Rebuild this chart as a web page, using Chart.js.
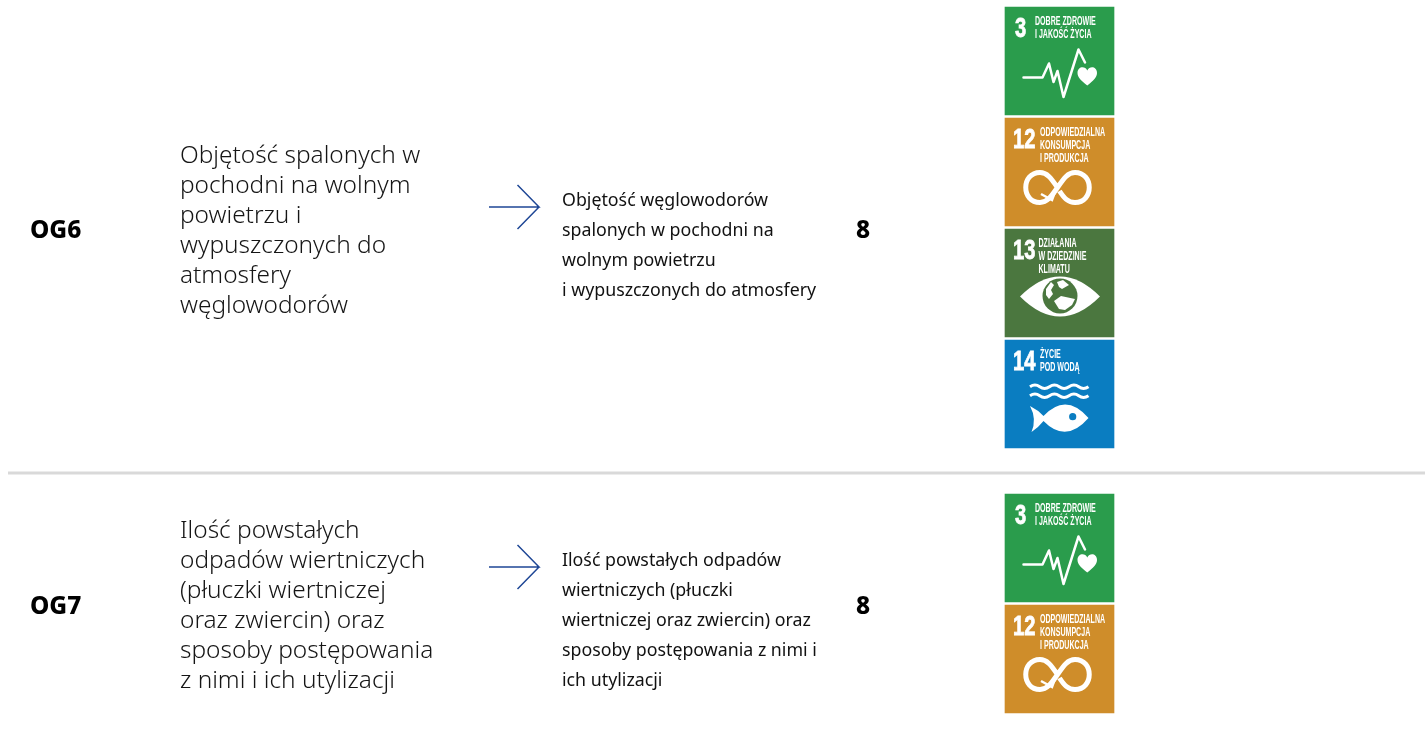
<!DOCTYPE html>
<html lang="pl">
<head>
<meta charset="utf-8">
<title>OG6 OG7</title>
<script src="https://cdn.jsdelivr.net/npm/chart.js@4"></script>
<style>
  html, body { margin: 0; background: #fff; overflow: hidden; }
  canvas { display: block; }
</style>
</head>
<body>
<canvas id="og-chart" width="1425" height="731"></canvas>
<script>
// table content
const rowCodes = ['OG6', 'OG7'];
const rowCounts = ['8', '8'];
const rowTitles = [
  ['Objętość spalonych w', 'pochodni na wolnym', 'powietrzu i', 'wypuszczonych do', 'atmosfery', 'węglowodorów'],
  ['Ilość powstałych', 'odpadów wiertniczych', '(płuczki wiertniczej', 'oraz zwiercin) oraz', 'sposoby postępowania', 'z nimi i ich utylizacji'],
];
const rowDescriptions = [
  ['Objętość węglowodorów', 'spalonych w pochodni na', 'wolnym powietrzu', 'i wypuszczonych do atmosfery'],
  ['Ilość powstałych odpadów', 'wiertniczych (płuczki', 'wiertniczej oraz zwiercin) oraz', 'sposoby postępowania z nimi i', 'ich utylizacji'],
];
const rowGoals = [[3, 12, 13, 14], [3, 12]];

const goalTitles = {
  3: ['DOBRE ZDROWIE', 'I JAKOŚĆ ŻYCIA'],
  12: ['ODPOWIEDZIALNA', 'KONSUMPCJA', 'I PRODUKCJA'],
  13: ['DZIAŁANIA', 'W DZIEDZINIE', 'KLIMATU'],
  14: ['ŻYCIE', 'POD WODĄ'],
};
const goalColors = { 3: '#2a9c4c', 12: '#cf8d2a', 13: '#4b773f', 14: '#0a7dc1' };

// layout of the page, in page units
const rowCenters = [231.5, 607.5];
const titleCenters = [231, 606.5];
const arrowYs = [207, 567];
const descriptionTops = [200.5, 560.5];
const tileTops = [7, 494];
const tileX = 1059.5;
const tileHeight = 108;
const tilePitch = 111;

const tileBars = [];
const tileColors = [];
const tileGoals = [];
rowGoals.forEach((goals, r) => {
  goals.forEach((goal, i) => {
    const top = tileTops[r] + i * tilePitch;
    tileBars.push({ x: tileX, y: [top, top + tileHeight] });
    tileColors.push(goalColors[goal]);
    tileGoals.push(goal);
  });
});

const lineStyle = { type: 'line', pointRadius: 0, fill: false, tension: 0 };
const arrowSets = arrowYs.map((y) => ({
  ...lineStyle,
  borderColor: '#1f4796',
  borderWidth: 1.5,
  data: [
    { x: 489, y }, { x: 539, y }, { x: 517.5, y: y - 22 }, { x: 539, y }, { x: 517.5, y: y + 22 },
  ],
}));

function line(ctx, pts) {
  ctx.beginPath();
  pts.forEach((p, i) => (i ? ctx.lineTo(p[0], p[1]) : ctx.moveTo(p[0], p[1])));
  ctx.stroke();
}

function blob(ctx, pts) {
  ctx.beginPath();
  pts.forEach((p, i) => (i ? ctx.lineTo(p[0], p[1]) : ctx.moveTo(p[0], p[1])));
  ctx.closePath();
  ctx.fill();
}

// icons, drawn in tile units (109 x 108)
const icons = {
  3(ctx) {
    ctx.lineWidth = 2.5;
    ctx.lineJoin = 'round';
    ctx.lineCap = 'round';
    line(ctx, [[18.5, 70.5], [37.5, 70.5], [44, 56.5], [48.5, 75], [52.5, 64], [58.5, 90], [73.5, 42.5], [80, 55.5]]);
    ctx.beginPath();
    ctx.moveTo(82.3, 78.5);
    ctx.bezierCurveTo(76, 73.5, 72.5, 70, 72.5, 66);
    ctx.bezierCurveTo(72.5, 59.5, 80, 58.5, 82.3, 63.5);
    ctx.bezierCurveTo(84.6, 58.5, 92, 59.5, 92, 66);
    ctx.bezierCurveTo(92, 70, 88.5, 73.5, 82.3, 78.5);
    ctx.fill();
  },
  12(ctx) {
    ctx.lineWidth = 5;
    ctx.lineCap = 'butt';
    ctx.lineJoin = 'miter';
    ctx.beginPath();
    ctx.moveTo(52.5, 69.5);
    ctx.bezierCurveTo(46, 60, 42, 54.5, 35, 54.5);
    ctx.bezierCurveTo(16, 54.5, 16, 84.5, 35, 84.5);
    ctx.bezierCurveTo(42, 84.5, 46, 79, 52.5, 69.5);
    ctx.bezierCurveTo(59, 60, 63, 54.5, 70, 54.5);
    ctx.bezierCurveTo(89, 54.5, 89, 84.5, 70, 84.5);
    ctx.bezierCurveTo(63, 84.5, 59, 80, 54.5, 73);
    ctx.stroke();
    ctx.lineWidth = 2.5;
    line(ctx, [[36, 76], [47, 82], [51, 71]]);
  },
  13(ctx, color) {
    ctx.beginPath();
    ctx.moveTo(15, 67.5);
    ctx.quadraticCurveTo(55, 27.5, 95, 67.5);
    ctx.quadraticCurveTo(55, 107.5, 15, 67.5);
    ctx.fill();
    ctx.fillStyle = color;
    ctx.beginPath();
    ctx.arc(55, 67, 17.5, 0, Math.PI * 2);
    ctx.fill();
    ctx.fillStyle = '#fff';
    blob(ctx, [[41, 60], [46, 53], [49, 56], [46, 61], [48, 65], [44, 70], [41, 66]]);
    blob(ctx, [[52, 53], [58, 51], [64, 56], [57, 60], [54, 58]]);
    blob(ctx, [[49, 72], [56, 67], [70, 70], [67, 76], [60, 81], [54, 80]]);
  },
  14(ctx) {
    ctx.lineWidth = 3;
    [46.7, 55.7].forEach((y) => {
      ctx.beginPath();
      ctx.moveTo(25, y);
      for (let i = 0; i < 3; i++) {
        const x = 25 + i * 19.5;
        ctx.quadraticCurveTo(x + 5, y - 3.5, x + 9.75, y);
        ctx.quadraticCurveTo(x + 14.5, y + 3.5, x + 19.5, y);
      }
      ctx.stroke();
    });
    ctx.beginPath();
    ctx.moveTo(25, 66);
    ctx.quadraticCurveTo(33, 70, 38.5, 76);
    ctx.quadraticCurveTo(61, 52, 83.5, 78);
    ctx.quadraticCurveTo(61, 104, 38.5, 81);
    ctx.quadraticCurveTo(33, 88, 26.5, 92);
    ctx.quadraticCurveTo(32, 79, 25, 66);
    ctx.fill();
    ctx.fillStyle = goalColors[14];
    ctx.beginPath();
    ctx.arc(67.7, 76.7, 3.6, 0, Math.PI * 2);
    ctx.fill();
  },
};

const textFont = '"Noto Sans", sans-serif';
const tileFont = '"Liberation Sans", sans-serif';

function drawLines(ctx, lines, x, y, pitch) {
  lines.forEach((txt, i) => ctx.fillText(txt, x, y + i * pitch));
}

// all the text and the tile pictures go on top of the library's marks
const tablePlugin = {
  id: 'tablePlugin',
  afterDatasetsDraw(chart) {
    const { ctx, scales } = chart;
    const px = (v) => scales.x.getPixelForValue(v);
    const py = (v) => scales.y.getPixelForValue(v);
    ctx.save();
    ctx.textBaseline = 'middle';
    ctx.textAlign = 'left';

    rowCodes.forEach((code, r) => {
      ctx.font = `800 24.4px ${textFont}`;
      ctx.fillStyle = '#000';
      ctx.fillText(code, px(30), py(rowCenters[r]));
      ctx.fillText(rowCounts[r], px(856), py(rowCenters[r]));

      ctx.font = `300 24.4px ${textFont}`;
      ctx.fillStyle = '#151515';
      drawLines(ctx, rowTitles[r], px(180), py(titleCenters[r] - 75), 30);

      ctx.font = `400 17.8px ${textFont}`;
      ctx.fillStyle = '#111';
      drawLines(ctx, rowDescriptions[r], px(562), py(descriptionTops[r]), 30.2);
    });

    const bars = chart.getDatasetMeta(0).data;
    bars.forEach((bar, i) => {
      const goal = tileGoals[i];
      const left = bar.x - bar.width / 2;
      const top = Math.min(bar.y, bar.base);
      ctx.save();
      ctx.translate(left, top);
      ctx.fillStyle = '#fff';
      ctx.strokeStyle = '#fff';
      ctx.textBaseline = 'alphabetic';

      const num = String(goal);
      ctx.save();
      ctx.translate(num.length > 1 ? 8 : 10, 30);
      ctx.scale(0.72, 1);
      ctx.font = `700 28px ${tileFont}`;
      ctx.lineWidth = 0.8;
      ctx.fillText(num, 0, 0);
      ctx.strokeText(num, 0, 0);
      ctx.restore();

      const titleX = { 3: 30, 12: 35, 13: 33.5, 14: 35 }[goal];
      goalTitles[goal].forEach((txt, k) => {
        ctx.save();
        ctx.translate(titleX, 17.7 + k * 13.3);
        ctx.scale(0.565, 1);
        ctx.font = `700 12.5px ${tileFont}`;
        ctx.fillText(txt, 0, 0);
        ctx.restore();
      });

      icons[goal](ctx, goalColors[goal]);
      ctx.restore();
    });
    ctx.restore();
  },
};

new Chart(document.querySelector('#og-chart'), {
  data: {
    datasets: [
      {
        type: 'bar',
        data: tileBars,
        backgroundColor: tileColors,
        barThickness: 109,
        borderSkipped: false,
        borderWidth: 0,
      },
      {
        ...lineStyle,
        borderColor: '#d9d9d9',
        borderWidth: 3,
        data: [{ x: 8, y: 473 }, { x: 1425, y: 473 }],
      },
      ...arrowSets,
    ],
  },
  options: {
    responsive: false,
    animation: false,
    layout: { padding: 0 },
    plugins: { legend: { display: false }, tooltip: { enabled: false } },
    scales: {
      x: { type: 'linear', min: 0, max: 1425, offset: false, display: false },
      y: { type: 'linear', min: 0, max: 731, reverse: true, display: false },
    },
  },
  plugins: [tablePlugin],
});
</script>
</body>
</html>
